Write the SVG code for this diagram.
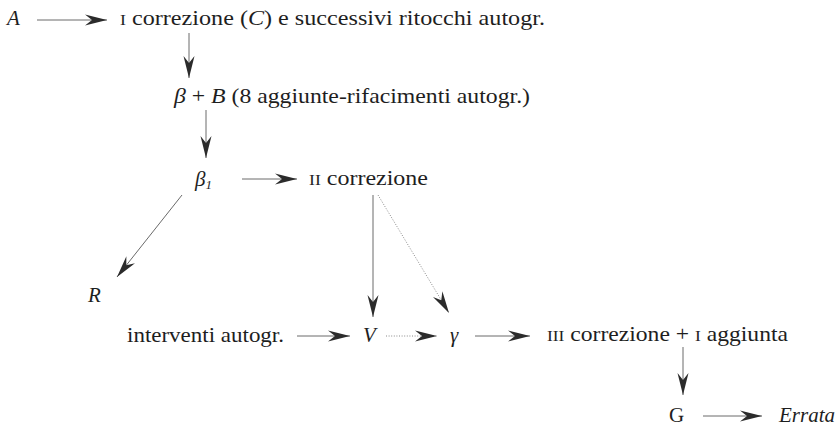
<svg xmlns="http://www.w3.org/2000/svg" width="839" height="426" viewBox="0 0 839 426">
  <style>
    .t { font-family: "Liberation Serif", "DejaVu Serif", serif; font-size: 21px; fill: #1e1e1e; }
    .i { font-style: italic; }
    .sc { font-size: 15.5px; }
    .ln { stroke: #6a6a6a; stroke-width: 1; fill: none; }
    .dot { stroke: #8a8a8a; stroke-width: 1; stroke-dasharray: 1 1.6; fill: none; }
  </style>
  <defs>
    <marker id="head" markerUnits="userSpaceOnUse" markerWidth="22" markerHeight="12" viewBox="0 0 22 12" refX="22" refY="6" orient="auto">
      <path d="M22,6 L0,0.5 L7,6 L0,11.5 Z" fill="#2b2b2b"/>
    </marker>
  </defs>
  <rect width="839" height="426" fill="#ffffff"/>

  <!-- connectors -->
  <g id="connectors">
    <line class="ln" x1="37" y1="20" x2="107" y2="20" marker-end="url(#head)"/>
    <line class="ln" x1="189" y1="33" x2="189" y2="78" marker-end="url(#head)"/>
    <line class="ln" x1="206" y1="110" x2="206" y2="158" marker-end="url(#head)"/>
    <line class="ln" x1="242" y1="179" x2="297" y2="179" marker-end="url(#head)"/>
    <line class="ln" x1="182" y1="195" x2="117" y2="277" marker-end="url(#head)"/>
    <line class="ln" x1="373" y1="195" x2="373" y2="317" marker-end="url(#head)"/>
    <line class="dot" x1="378" y1="195" x2="449" y2="313" marker-end="url(#head)"/>
    <line class="ln" x1="297" y1="336" x2="350" y2="336" marker-end="url(#head)"/>
    <line class="dot" x1="386" y1="336" x2="437" y2="336" marker-end="url(#head)"/>
    <line class="ln" x1="475" y1="336" x2="530" y2="336" marker-end="url(#head)"/>
    <line class="ln" x1="683" y1="347" x2="683" y2="395" marker-end="url(#head)"/>
    <line class="ln" x1="703" y1="416" x2="762" y2="416" marker-end="url(#head)"/>
  </g>

  <!-- nodes -->
  <g id="node-A"><text class="t i" x="7" y="25">A</text></g>
  <g id="node-corr1"><text class="t" x="120" y="25" textLength="425" lengthAdjust="spacingAndGlyphs"><tspan class="sc">I</tspan> correzione (<tspan class="i">C</tspan>) e successivi ritocchi autogr.</text></g>
  <g id="node-beta"><text class="t" x="174" y="103" textLength="356" lengthAdjust="spacingAndGlyphs"><tspan class="i">β</tspan> + <tspan class="i">B</tspan> (8 aggiunte-rifacimenti autogr.)</text></g>
  <g id="node-beta1"><text class="t i" x="195" y="186">β<tspan font-size="13" dy="3">1</tspan></text></g>
  <g id="node-corr2"><text class="t" x="309" y="185" textLength="119" lengthAdjust="spacingAndGlyphs"><tspan class="sc">II</tspan> correzione</text></g>
  <g id="node-R"><text class="t i" x="88" y="302">R</text></g>
  <g id="node-interventi"><text class="t" x="127" y="342" textLength="157" lengthAdjust="spacingAndGlyphs">interventi autogr.</text></g>
  <g id="node-V"><text class="t i" x="363" y="342">V</text></g>
  <g id="node-gamma"><text class="t i" x="450" y="342">γ</text></g>
  <g id="node-corr3"><text class="t" x="547" y="341" textLength="241" lengthAdjust="spacingAndGlyphs"><tspan class="sc">III</tspan> correzione + <tspan class="sc">I</tspan> aggiunta</text></g>
  <g id="node-G"><text class="t" x="669" y="422">G</text></g>
  <g id="node-Errata"><text class="t i" x="779" y="422" textLength="56" lengthAdjust="spacingAndGlyphs">Errata</text></g>
</svg>
